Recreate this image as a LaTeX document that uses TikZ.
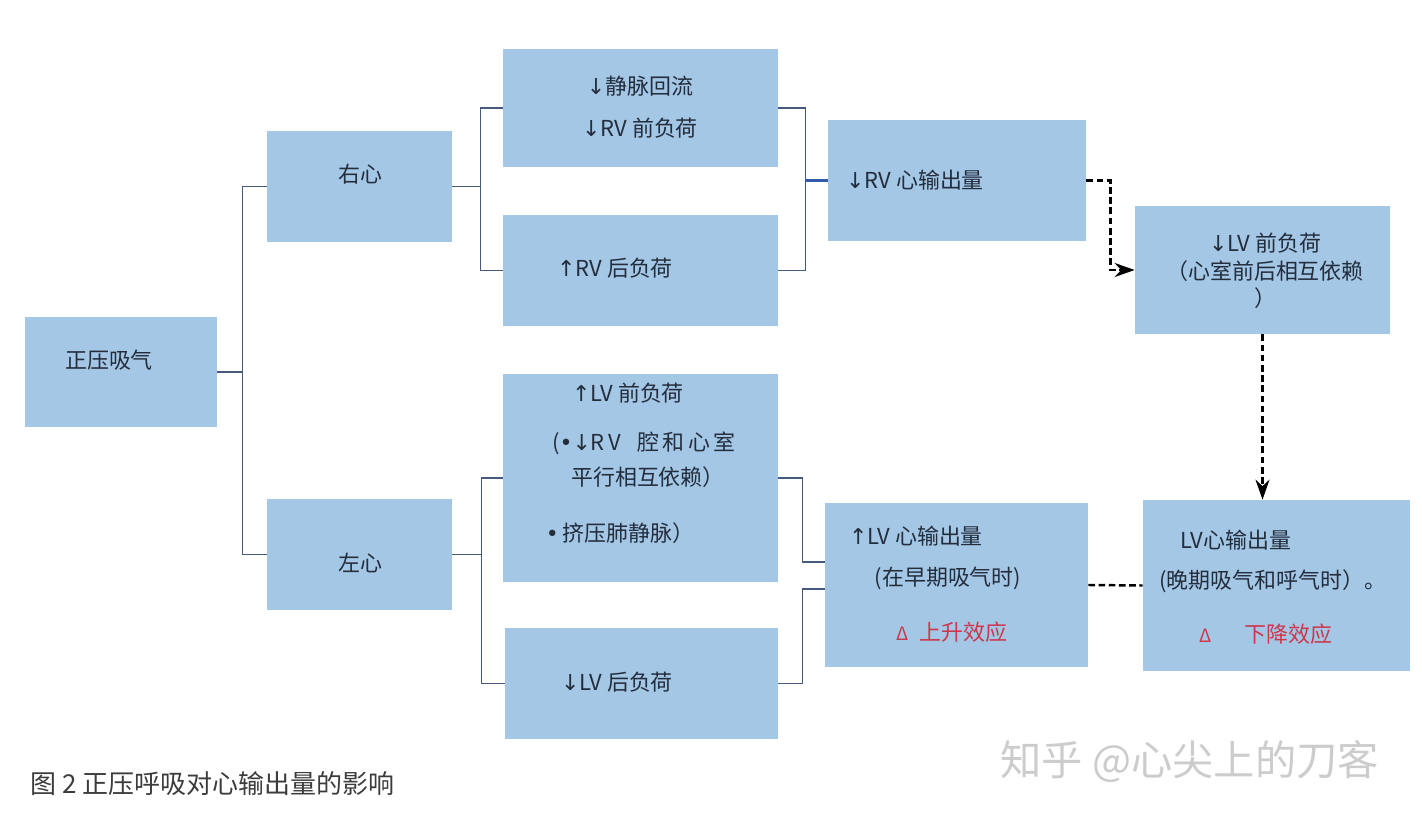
\documentclass[tikz,border=0pt]{standalone}
\usepackage{fontspec}
\setmainfont{Noto Sans CJK SC}
\newfontfamily\symfont{DejaVu Sans}
\usepackage{xcolor}
\usetikzlibrary{arrows.meta, positioning}
\definecolor{boxblue}{RGB}{164,199,230}
\definecolor{linkblue}{RGB}{70,90,125}
\definecolor{boldblue}{RGB}{50,90,170}
\definecolor{inkgray}{RGB}{35,45,60}
\definecolor{effectred}{RGB}{205,55,75}
\definecolor{captiongray}{RGB}{60,60,60}
\newcommand{\dn}{{\symfont ↓}}
\newcommand{\up}{{\symfont ↑}}
\newcommand{\dotb}{{\symfont •}}

\begin{document}
\begin{tikzpicture}[
    box/.style={rectangle, fill=boxblue, inner sep=0pt},
    txt/.style={text=inkgray, font=\fontsize{12.5}{15}\selectfont, inner sep=0pt, align=center},
    link/.style={draw=linkblue, line width=0.7pt},
    boldlink/.style={draw=boldblue, line width=2pt},
    dashline/.style={draw=black, line width=1.4pt, dash pattern=on 3.8pt off 2pt},
    dasharrow/.style={dashline, -{Stealth[length=4mm, width=2.8mm]}}
]
\useasboundingbox (0,0) rectangle (28.44,16.36);

\node[box, minimum width=3.84cm, minimum height=2.2cm] (ppv) at (2.42,8.92) {};
\node[box, minimum width=3.7cm, minimum height=2.22cm] (rh) at (7.19,12.63) {};
\node[box, minimum width=3.7cm, minimum height=2.22cm] (lh) at (7.19,5.27) {};
\node[box, minimum width=5.5cm, minimum height=2.36cm] (rvpre) at (12.81,14.2) {};
\node[box, minimum width=5.5cm, minimum height=2.22cm] (rvafter) at (12.81,10.95) {};
\node[box, minimum width=5.5cm, minimum height=4.16cm] (lvpre) at (12.81,6.8) {};
\node[box, minimum width=5.46cm, minimum height=2.22cm] (lvafter) at (12.83,2.69) {};
\node[box, minimum width=5.16cm, minimum height=2.42cm] (rvco) at (19.14,12.75) {};
\node[box, minimum width=5.1cm, minimum height=2.56cm] (lvdown) at (25.25,10.96) {};
\node[box, minimum width=5.26cm, minimum height=3.28cm] (lvcoup) at (19.13,4.66) {};
\node[box, minimum width=5.34cm, minimum height=3.42cm] (lvcodown) at (25.53,4.65) {};

\node[txt] (tppv) at (2.18,9.16) {正压吸气};
\node[txt] (trh) at (7.2,12.88) {右心};
\node[txt] (tlh) at (7.2,5.1) {左心};
\node[txt, font=\fontsize{12.5}{24}\selectfont] (trvpre) at (12.8,14.22) {\dn 静脉回流\\\dn RV 前负荷};
\node[txt] (trvafter) at (12.3,11.0) {\up RV 后负荷};
\node[txt] (tlvpre) at (12.56,8.5) {\up LV 前负荷};
\node[txt] (tlvpreb) at (12.88,7.5) {(\dotb\dn R\,V\enspace\ 腔\,和\,心\,室};
\node[txt] (tlvprec) at (12.96,6.82) {平行相互依赖）};
\node[txt] (tlvpred) at (12.4,5.7) {\dotb\,挤压肺静脉）};
\node[txt] (tlvafter) at (12.34,2.72) {\dn LV 后负荷};
\node[txt] (trvco) at (18.3,12.76) {\dn RV 心输出量};
\node[txt, font=\fontsize{12.5}{15.5}\selectfont] (tlvdown) at (25.3,10.94) {\dn LV 前负荷\\（心室前后相互依赖\\）};
\node[txt] (tlvcoup) at (18.32,5.64) {\up LV 心输出量};
\node[txt] (tlvcoupb) at (18.96,4.8) {(在早期吸气时)};
\node[txt, text=effectred] (tlvcoupc) at (19.04,3.72) {{\fontsize{10.5}{12}\selectfont Δ}\enspace 上升效应};
\node[txt] (tlvcodown) at (24.72,5.56) {LV心输出量};
\node[txt] (tlvcodownb) at (25.46,4.74) {(晚期吸气和呼气时）。};
\node[txt, text=effectred] (tlvcodownc) at (25.32,3.68) {{\fontsize{10.5}{12}\selectfont Δ}\quad\enspace 下降效应};

\node[anchor=west, text=captiongray, font=\fontsize{14.8}{17}\selectfont, inner sep=0pt] (caption) at (0.6,0.68) {图 2 正压呼吸对心输出量的影响};
\node[anchor=west, text=gray!40, font=\fontsize{23.5}{28}\selectfont, inner sep=0pt] (mark) at (20.0,1.12) {知乎 @心尖上的刀客};

\draw[link] (ppv.east) -- ++(0.5,0) |- (rh.west);
\draw[link] (ppv.east) -- ++(0.5,0) |- (lh.west);
\draw[link] (rh.east) -- ++(0.56,0) |- (rvpre.west);
\draw[link] (rh.east) -- ++(0.56,0) |- (rvafter.west);
\draw[link] (rvpre.east) -- ++(0.54,0) |- (rvafter.east);
\draw[boldlink] (rvco.west) -- ++(-0.46,0);
\draw[link] (lh.east) -- ++(0.58,0) |- (lvpre.west);
\draw[link] (lh.east) -- ++(0.58,0) |- (lvafter.west);
\draw[link] (lvpre.east) -- ++(0.48,0) |- ([yshift=0.46cm]lvcoup.west);
\draw[link] (lvafter.east) -- ++(0.48,0) |- ([yshift=-0.08cm]lvcoup.west);
\draw[dasharrow] (rvco.east) -- ++(0.48,0) |- (lvdown.west);
\draw[dasharrow] (lvdown.south) -- (lvdown.south |- lvcodown.north);
\draw[dashline] (lvcoup.east) -- (lvcodown.west);

\end{tikzpicture}
\end{document}
